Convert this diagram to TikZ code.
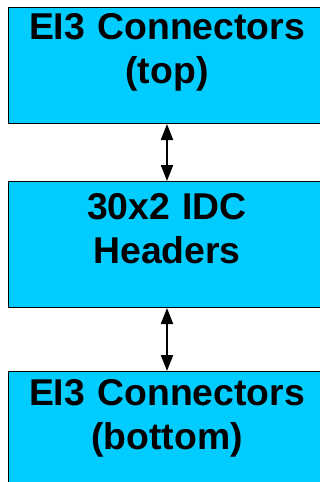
\documentclass[tikz,border=0pt]{standalone}
\usepackage{fontspec}
\setmainfont{Liberation Sans}
\usetikzlibrary{shapes, arrows.meta, positioning}
\definecolor{boxcyan}{HTML}{00CCFF}
\tikzstyle{rect} = [draw=black, line width=0.75pt, rectangle, fill=boxcyan, inner sep=0pt, text width=238.5pt, align=center, font=\fontsize{28}{33}\selectfont\bfseries]
\tikzstyle{line} = [draw, line width=1.5pt, {Triangle[length=12pt,width=9pt]}-{Triangle[length=12pt,width=9pt]}]

\begin{document}
\begin{tikzpicture}
	\useasboundingbox (0,0) rectangle (240pt,-361.5pt);
	\clip (0,0) rectangle (240pt,-361.5pt);
	\node [rect, anchor=north, text height=24pt, text depth=63pt] (eitop) at (125.25pt,-5.25pt) {EI3 Connectors\\(top)};
	\node [rect, below=42.75pt of eitop, text height=28.5pt, text depth=66pt] (idc) {30x2 IDC\\Headers};
	\node [rect, below=47.25pt of idc, text height=25.5pt, text depth=69pt] (eibot) {EI3 Connectors\\(bottom)};

	\path [line] (eitop) -- (idc);
	\path [line] (idc) -- (eibot);
\end{tikzpicture}
\end{document}
